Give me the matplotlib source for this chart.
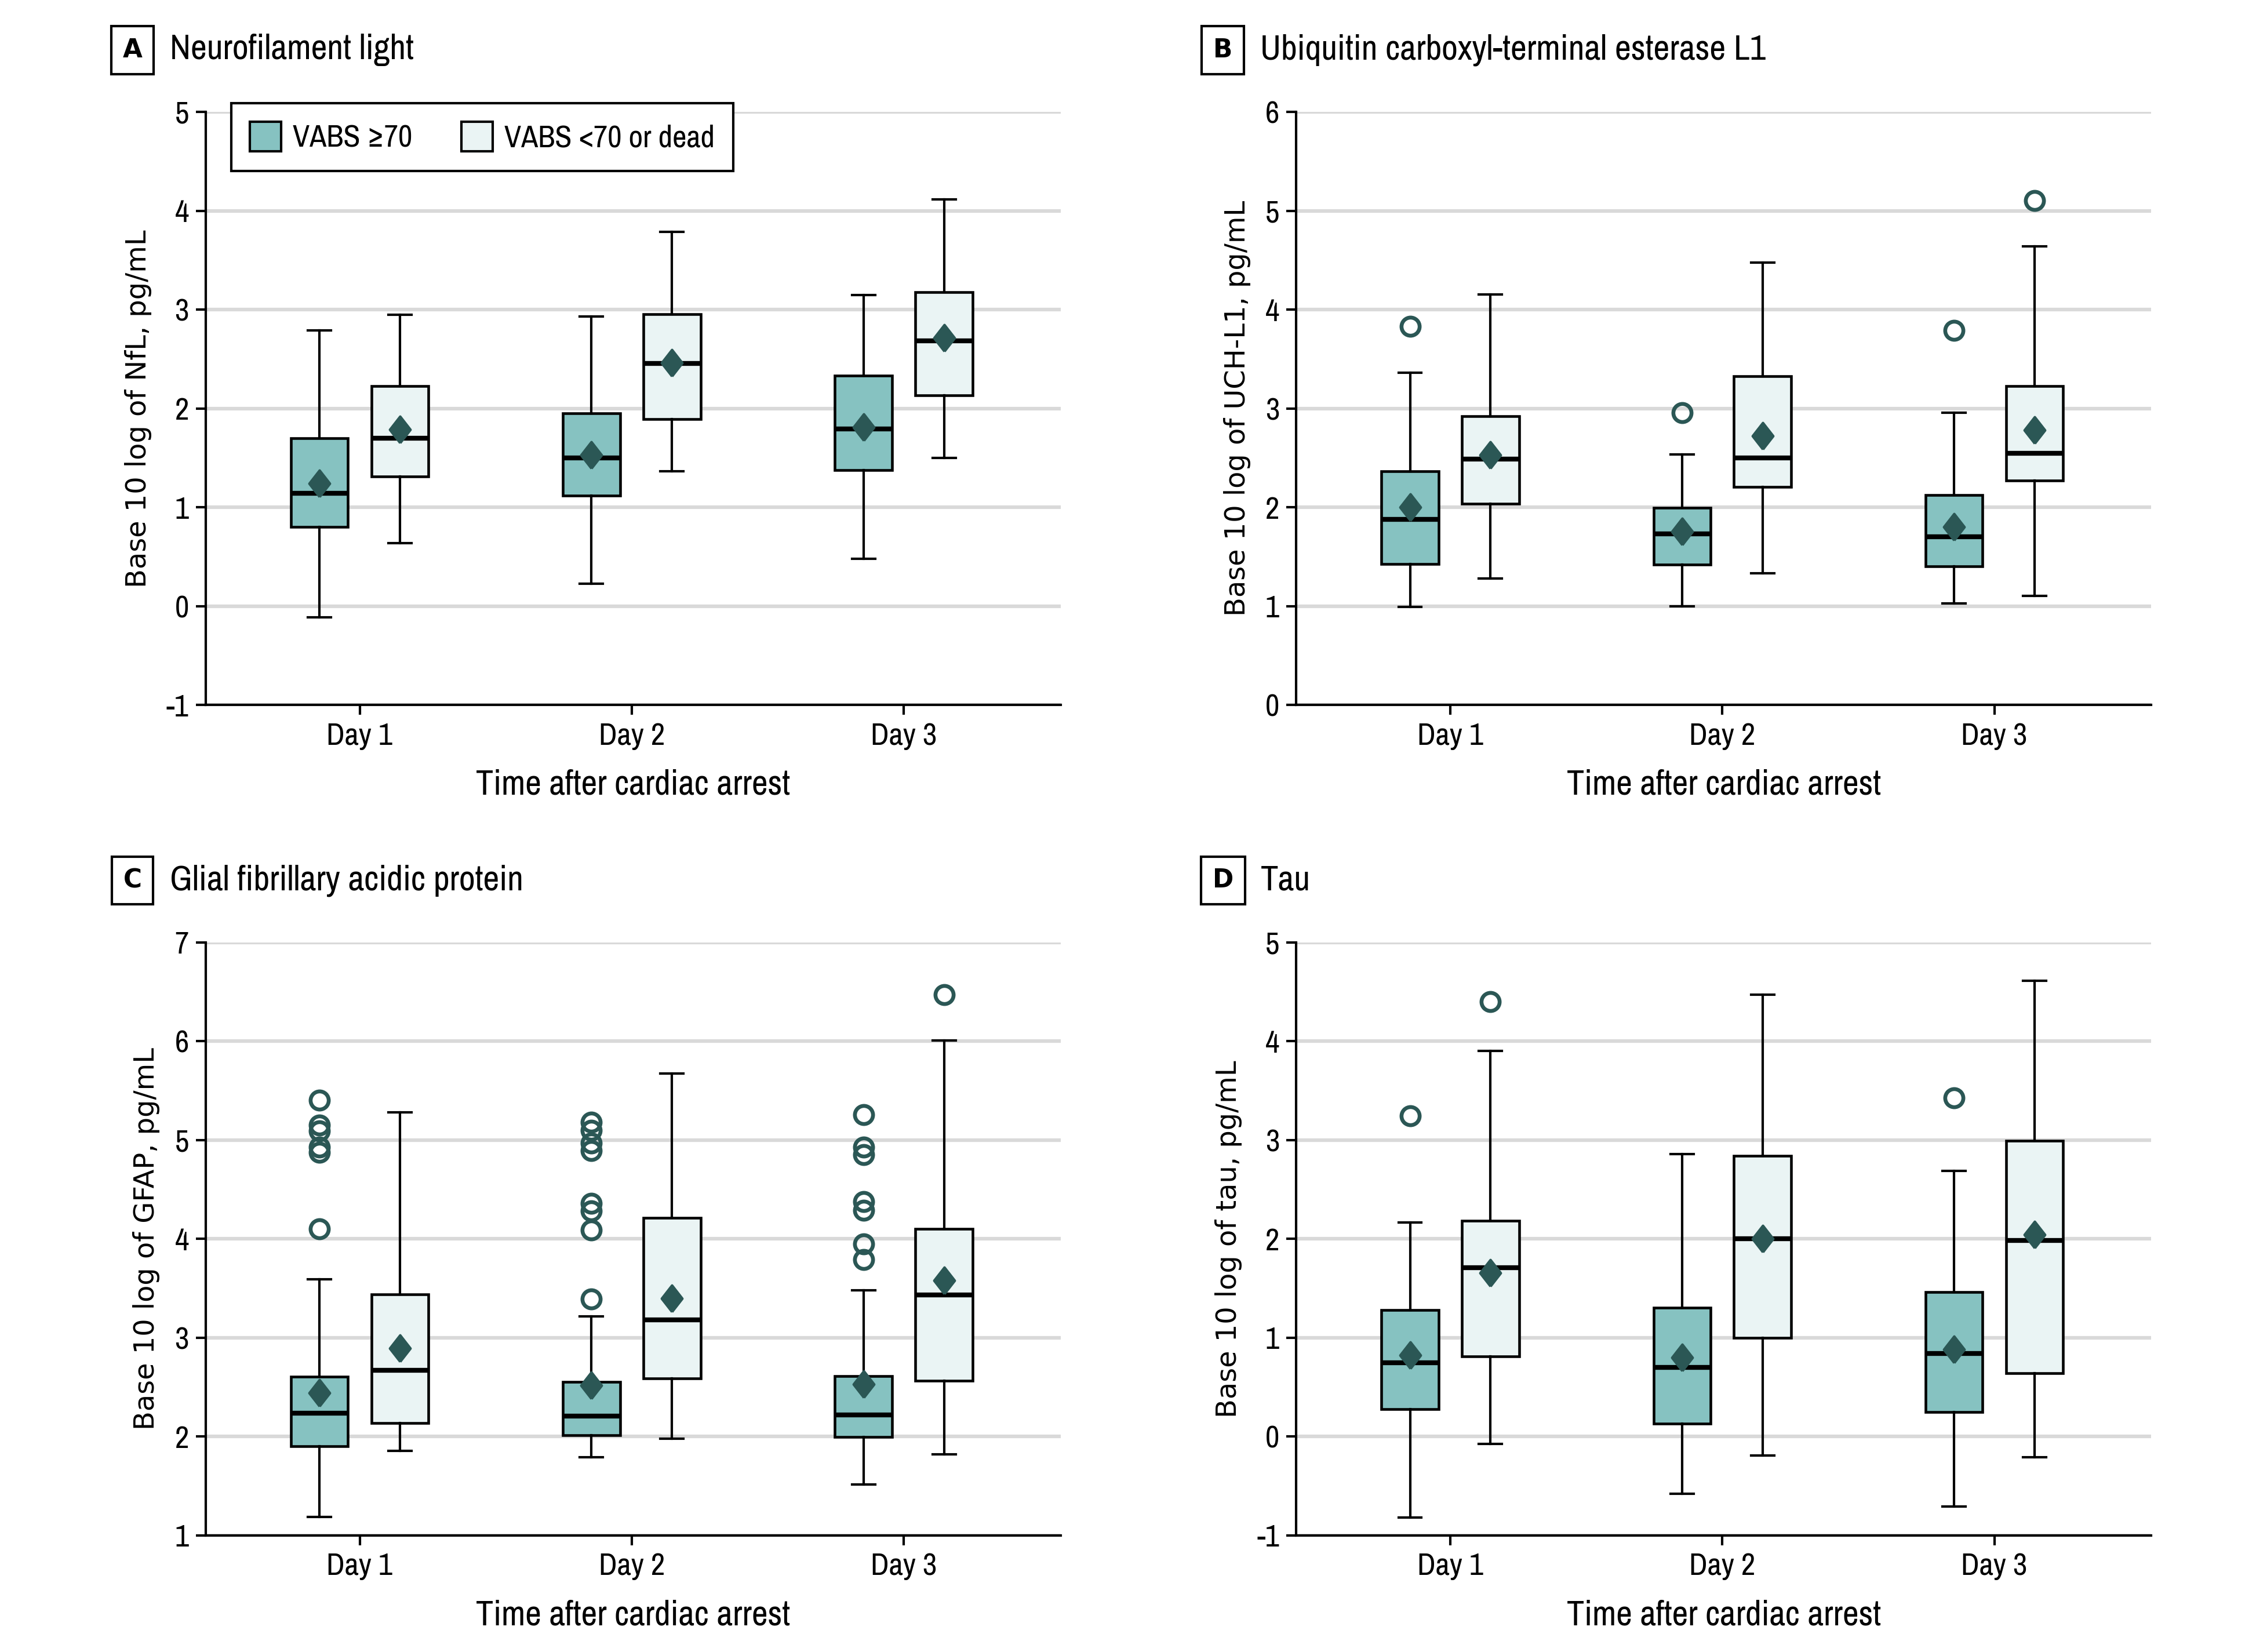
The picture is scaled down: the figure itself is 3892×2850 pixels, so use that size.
import matplotlib
matplotlib.use("Agg")
import matplotlib.pyplot as plt
from matplotlib import font_manager as fm
from matplotlib.patches import Patch

names = sorted({f.name for f in fm.fontManager.ttflist})
narrow = [n for n in names if "Condensed" in n or "Narrow" in n]
if narrow:
    FONT = narrow[0]
    FS = 1.0
else:
    FONT = "Roboto"
    FS = 0.86
plt.rcParams["font.family"] = [FONT, "DejaVu Sans"]
plt.rcParams["axes.unicode_minus"] = False

DAYS = ["Day 1", "Day 2", "Day 3"]
GROUPS = ["VABS \u226570", "VABS <70 or dead"]

# each row: whisker low, q1, median, q3, whisker high, mean
NFL_GOOD = [[-0.11, 0.80, 1.14, 1.70, 2.79, 1.24],
            [0.23, 1.12, 1.50, 1.95, 2.93, 1.53],
            [0.48, 1.375, 1.795, 2.335, 3.15, 1.81]]
NFL_POOR = [[0.64, 1.315, 1.70, 2.226, 2.95, 1.79],
            [1.365, 1.892, 2.454, 2.955, 3.79, 2.46],
            [1.50, 2.134, 2.683, 3.18, 4.117, 2.716]]
NFL_GOOD_OUT = [[], [], []]
NFL_POOR_OUT = [[], [], []]

UCH_GOOD = [[0.994, 1.427, 1.876, 2.363, 3.365, 2.0],
            [1.0, 1.423, 1.732, 1.996, 2.536, 1.757],
            [1.027, 1.406, 1.703, 2.124, 2.957, 1.80]]
UCH_POOR = [[1.28, 2.04, 2.49, 2.92, 4.153, 2.53],
            [1.336, 2.21, 2.499, 3.328, 4.474, 2.722],
            [1.105, 2.272, 2.55, 3.229, 4.639, 2.78]]
UCH_GOOD_OUT = [[3.83], [2.96], [3.79]]
UCH_POOR_OUT = [[], [], [5.105]]

GFAP_GOOD = [[1.185, 1.902, 2.239, 2.603, 3.592, 2.44],
             [1.788, 2.016, 2.207, 2.554, 3.217, 2.52],
             [1.516, 1.995, 2.217, 2.609, 3.478, 2.527]]
GFAP_POOR = [[1.853, 2.136, 2.668, 3.44, 5.277, 2.89],
             [1.978, 2.587, 3.179, 4.212, 5.674, 3.40],
             [1.82, 2.565, 3.43, 4.103, 6.005, 3.58]]
GFAP_GOOD_OUT = [[5.40, 5.15, 5.09, 4.93, 4.875, 4.10],
                 [5.18, 5.10, 4.97, 4.89, 4.36, 4.28, 4.09, 3.39],
                 [5.255, 4.93, 4.85, 4.375, 4.29, 3.946, 3.79]]
GFAP_POOR_OUT = [[], [], [6.47]]

TAU_GOOD = [[-0.819, 0.279, 0.747, 1.278, 2.165, 0.824],
            [-0.58, 0.13, 0.698, 1.305, 2.858, 0.80],
            [-0.71, 0.25, 0.84, 1.46, 2.69, 0.88]]
TAU_POOR = [[-0.077, 0.81, 1.706, 2.183, 3.902, 1.656],
            [-0.19, 1.0, 2.0, 2.84, 4.47, 2.0],
            [-0.21, 0.64, 1.985, 2.99, 4.61, 2.04]]
TAU_GOOD_OUT = [[3.245], [], [3.425]]
TAU_POOR_OUT = [[4.40], [], []]

TEAL = "#86C2C1"
PALE = "#EAF4F4"
DARK = "#2B5755"
GRID = "#D9D9D9"

DIAMOND = [(0, -1), (0.78, 0), (0, 1), (-0.78, 0), (0, -1)]


def stats(rows, outs):
    res = []
    for r, o in zip(rows, outs):
        res.append(dict(whislo=r[0], q1=r[1], med=r[2], q3=r[3], whishi=r[4],
                        mean=r[5], fliers=o))
    return res


def draw_group(ax, rows, outs, pos, color):
    ax.bxp(stats(rows, outs), positions=pos, widths=0.21, capwidths=0.085,
           showmeans=True, patch_artist=True, manage_ticks=False,
           boxprops=dict(facecolor=color, edgecolor="black", linewidth=1.1),
           whiskerprops=dict(color="black", linewidth=1.0),
           capprops=dict(color="black", linewidth=1.0),
           medianprops=dict(color="black", linewidth=2.0),
           meanprops=dict(marker=DIAMOND, markersize=11, markerfacecolor=DARK,
                          markeredgecolor=DARK),
           flierprops=dict(marker="o", markersize=7.5, markerfacecolor="none",
                           markeredgecolor=DARK, markeredgewidth=1.6))


def panel(rect, letter, title, good, poor, good_out, poor_out, ylo, yhi, ylabel):
    ax = fig.add_axes(rect)
    x = [1, 2, 3]
    draw_group(ax, good, good_out, [v - 0.148 for v in x], TEAL)
    draw_group(ax, poor, poor_out, [v + 0.148 for v in x], PALE)
    ax.set_xlim(0.434, 3.577)
    ax.set_ylim(ylo, yhi)
    ax.set_yticks(range(ylo, yhi + 1))
    ax.set_xticks(x)
    ax.set_xticklabels(DAYS)
    ax.yaxis.grid(True, color=GRID, linewidth=1.5)
    ax.set_axisbelow(True)
    for s in ["top", "right"]:
        ax.spines[s].set_visible(False)
    ax.spines["left"].set_linewidth(1.0)
    ax.spines["bottom"].set_linewidth(1.0)
    ax.tick_params(axis="both", labelsize=12.8 * FS, length=4, width=1.0, pad=3)
    ax.set_xlabel("Time after cardiac arrest", fontsize=14.5 * FS, labelpad=8)
    ax.set_ylabel(ylabel, fontsize=11.5, family=["DejaVu Sans"], labelpad=6)
    left = rect[0]
    top = rect[1] + rect[3]
    fig.text(left - 0.0325, top + 0.0375, letter, fontsize=10.5,
             fontweight="bold", family=["DejaVu Sans"],
             ha="center", va="center",
             bbox=dict(boxstyle="square,pad=0.45", facecolor="white",
                       edgecolor="black", linewidth=1.0))
    fig.text(left - 0.0159, top + 0.0375, title, fontsize=14.6 * FS, ha="left",
             va="center")
    return ax


fig = plt.figure(figsize=(3892 / 300, 2850 / 300), dpi=300)

W = 0.379
H = 0.359
axA = panel([0.0912, 0.5732, W, H], "A", "Neurofilament light",
            NFL_GOOD, NFL_POOR, NFL_GOOD_OUT, NFL_POOR_OUT, -1, 5,
            "Base 10 log of NfL, pg/mL")
panel([0.5746, 0.5732, W, H], "B", "Ubiquitin carboxyl-terminal esterase L1",
      UCH_GOOD, UCH_POOR, UCH_GOOD_OUT, UCH_POOR_OUT, 0, 6,
      "Base 10 log of UCH-L1, pg/mL")
panel([0.0912, 0.0706, W, H], "C", "Glial fibrillary acidic protein",
      GFAP_GOOD, GFAP_POOR, GFAP_GOOD_OUT, GFAP_POOR_OUT, 1, 7,
      "Base 10 log of GFAP, pg/mL")
panel([0.5746, 0.0706, W, H], "D", "Tau",
      TAU_GOOD, TAU_POOR, TAU_GOOD_OUT, TAU_POOR_OUT, -1, 5,
      "Base 10 log of tau, pg/mL")

handles = [Patch(facecolor=TEAL, edgecolor="black", linewidth=1.0),
           Patch(facecolor=PALE, edgecolor="black", linewidth=1.0)]
leg = axA.legend(handles, GROUPS, ncol=2, loc="upper left",
                 bbox_to_anchor=(0.03, 1.015), fontsize=12.8 * FS,
                 fancybox=False, edgecolor="black", framealpha=1,
                 borderpad=0.6, handlelength=1.0, handleheight=1.1,
                 columnspacing=1.6, handletextpad=0.38, borderaxespad=0)
leg.get_frame().set_linewidth(1.0)

fig.savefig("out.png", dpi=300)
